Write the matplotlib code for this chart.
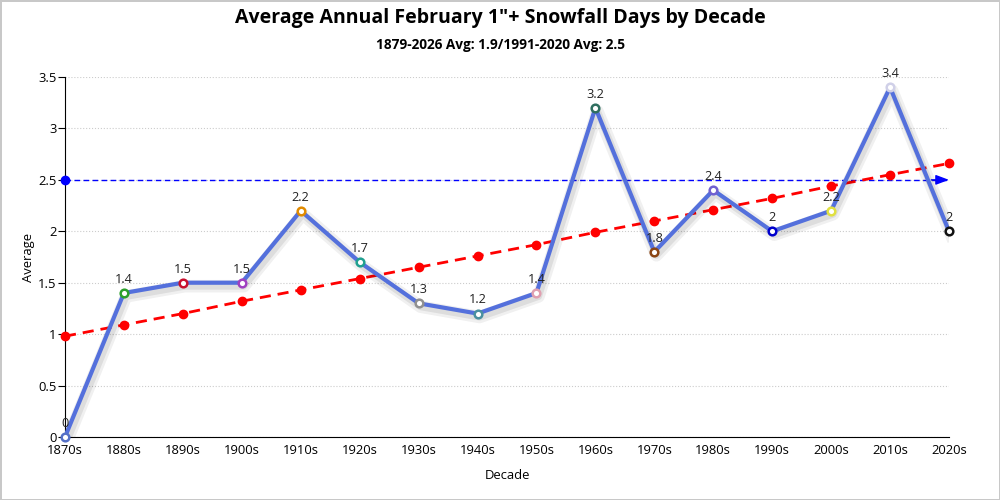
import matplotlib.pyplot as plt
import matplotlib.patheffects as pe
import numpy as np

plt.rcParams['font.family'] = ['Open Sans', 'DejaVu Sans']

decades = ['1870s', '1880s', '1890s', '1900s', '1910s', '1920s', '1930s', '1940s',
           '1950s', '1960s', '1970s', '1980s', '1990s', '2000s', '2010s', '2020s']
averages = [0, 1.4, 1.5, 1.5, 2.2, 1.7, 1.3, 1.2, 1.4, 3.2, 1.8, 2.4, 2, 2.2, 3.4, 2]
trend = [0.98, 1.09, 1.20, 1.32, 1.43, 1.54, 1.65, 1.76, 1.87, 1.99,
         2.10, 2.21, 2.32, 2.44, 2.55, 2.66]
marker_colors = ['#5470c6', '#2ca02c', '#c8102e', '#a040c0', '#e08a00', '#20a090',
                 '#909090', '#4a90a0', '#e0a0b0', '#2f6f60', '#8b4513', '#7060d0',
                 '#0000cd', '#e0e040', '#d0d0e8', '#111111']
normal_avg = 2.5

fig = plt.figure(figsize=(10, 5), dpi=100)
fig.patch.set_edgecolor('#c8c8c8')
fig.patch.set_linewidth(2)
ax = fig.add_axes([0.065, 0.126, 0.884, 0.72])

x = np.arange(len(decades))

# trend line
ax.plot(x, trend, color='red', linestyle='--', linewidth=2, dashes=(4, 2.5),
        marker='o', markersize=6, zorder=3, clip_on=False)

# 1991-2020 normal
ax.plot([0, x[-1]], [normal_avg, normal_avg], color='blue', linestyle='--',
        linewidth=1, dashes=(4, 2.5), zorder=2)
ax.plot(0, normal_avg, 'o', color='blue', markersize=6, clip_on=False, zorder=4)
ax.annotate('', xy=(x[-1], normal_avg), xytext=(x[-1] - 0.3, normal_avg),
            arrowprops=dict(arrowstyle='-|>,head_length=0.8,head_width=0.3',
                            color='blue', lw=1, shrinkA=0, shrinkB=0))

# main series with soft shadow
shadow = [pe.SimpleLineShadow(offset=(1.5, -2.5), alpha=0.06, linewidth=9),
          pe.SimpleLineShadow(offset=(1.5, -2.5), alpha=0.08, linewidth=5),
          pe.Normal()]
ax.plot(x, averages, color='#5470dc', linewidth=3, zorder=5, path_effects=shadow)
for xi, yi, c in zip(x, averages, marker_colors):
    ax.plot(xi, yi, 'o', markersize=5.5, markerfacecolor='white', markeredgecolor=c,
            markeredgewidth=1.8, zorder=6, clip_on=False)
    ax.text(xi, yi + 0.07, f'{yi:g}', ha='center', va='bottom', fontsize=9.2,
            color='#222222', zorder=7)

ax.set_xlim(0, x[-1])
ax.set_ylim(0, 3.5)
ax.set_xticks(x)
ax.set_xticklabels(decades)
ax.set_yticks(np.arange(0, 3.51, 0.5))
ax.set_yticklabels(['0', '0.5', '1', '1.5', '2', '2.5', '3', '3.5'])
ax.tick_params(axis='x', length=0, labelsize=9.4, pad=5)
ax.tick_params(axis='y', length=5, labelsize=9.4, pad=1)
ax.grid(axis='y', color='#cccccc', linestyle=':', linewidth=0.8)
ax.set_axisbelow(True)
for s in ['top', 'right']:
    ax.spines[s].set_visible(False)
ax.spines['left'].set_color('black')
ax.spines['bottom'].set_color('black')

ax.set_xlabel('Decade', fontsize=9.4, labelpad=9)
ax.set_ylabel('Average', fontsize=9.4, labelpad=2)

fig.text(0.5, 0.965, 'Average Annual February 1"+ Snowfall Days by Decade',
         ha='center', va='center', fontsize=14, fontweight='bold')
fig.text(0.5, 0.91, '1879-2026 Avg: 1.9/1991-2020 Avg: 2.5',
         ha='center', va='center', fontsize=9.8, fontweight='bold')

fig.savefig('out.png', dpi=100)
